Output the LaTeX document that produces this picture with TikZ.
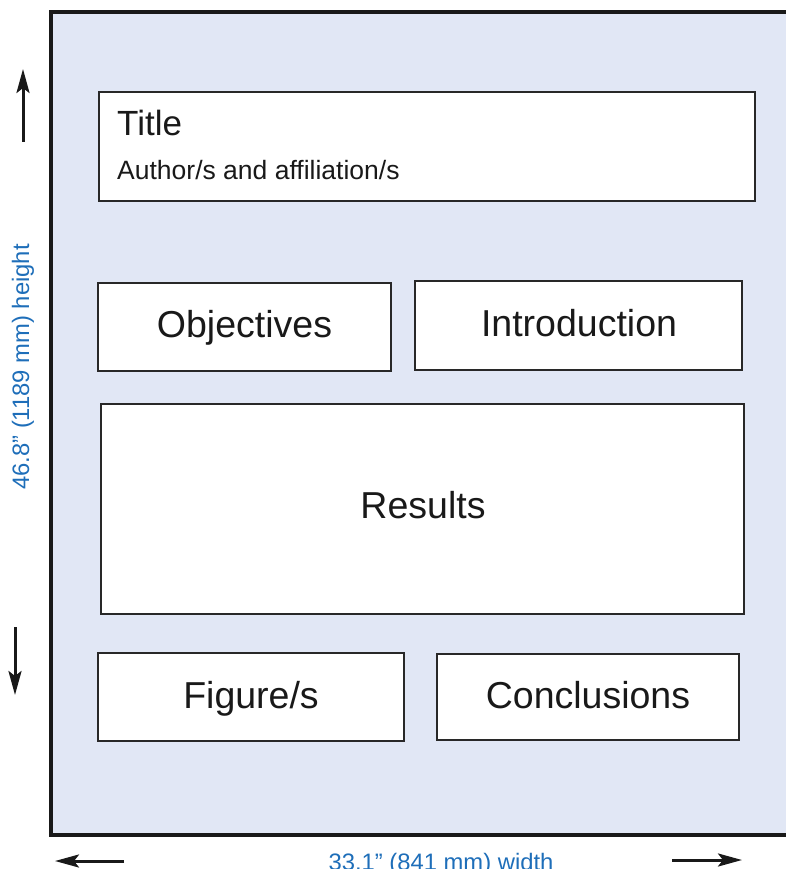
\documentclass[tikz,border=0pt]{standalone}
\usepackage{fontspec}
\setmainfont{Liberation Sans}
\usetikzlibrary{arrows.meta}
\definecolor{pagebg}{RGB}{225,231,245}
\definecolor{dimblue}{RGB}{30,110,185}
\definecolor{boxline}{RGB}{40,40,40}
\tikzset{
  box/.style={draw=boxline, line width=2pt, fill=white, inner sep=0pt, outer sep=0pt},
  lbl/.style={anchor=base, inner sep=0pt, text=black!90, font=\fontsize{37.5}{40}\selectfont},
  dimtext/.style={inner sep=0pt, text=dimblue, font=\fontsize{23.8}{26}\selectfont},
  dimarrow/.style={line width=3pt, -{Stealth[length=24pt,width=13pt,inset=5pt]}, black!90}
}
\begin{document}
\begin{tikzpicture}[x=1pt,y=-1pt]
\useasboundingbox (0,0) rectangle (786,869);
% outer page
\fill[pagebg] (51,12) rectangle (800,835);
\draw[line width=4pt, black!90] (800,12) -- (51,12) -- (51,835) -- (800,835);
% boxes
\node[box, minimum width=656pt, minimum height=109pt] (title) at (427,146.5) {};
\node[box, minimum width=293pt, minimum height=88pt] (obj) at (244.5,327) {};
\node[box, minimum width=327pt, minimum height=89pt] (intro) at (578.5,325.5) {};
\node[box, minimum width=643pt, minimum height=210pt] (res) at (422.5,509) {};
\node[box, minimum width=306pt, minimum height=88pt] (fig) at (251,697) {};
\node[box, minimum width=302pt, minimum height=86pt] (conc) at (588,697) {};
% texts
\node[anchor=base west, inner sep=0pt, text=black!90, font=\fontsize{35}{38}\selectfont] (titletext) at (117,136) {Title};
\node[anchor=base west, inner sep=0pt, text=black!90, font=\fontsize{26.5}{28}\selectfont] (authtext) at (117,179) {Author/s and affiliation/s};
\node[lbl] (objtext) at (244.5,337) {Objectives};
\node[lbl] (introtext) at (579,336) {Introduction};
\node[lbl] (restext) at (423,518) {Results};
\node[lbl] (figtext) at (251,708) {Figure/s};
\node[lbl] (conctext) at (588,708) {Conclusions};
% dimension labels
\node[dimtext, rotate=90] (htext) at (23,367) {46.8” (1189 mm) height};
\node[dimtext, anchor=base] (wtext) at (441,870) {33.1” (841 mm) width};
% arrows
\coordinate (upA) at (23,142); \coordinate (upB) at (23,69);
\coordinate (dnA) at (15,627); \coordinate (dnB) at (15,695);
\coordinate (lfA) at (124,861); \coordinate (lfB) at (55,861);
\coordinate (rtA) at (672,860); \coordinate (rtB) at (742,860);
\draw[dimarrow] (upA) -- (upB);
\draw[dimarrow] (dnA) -- (dnB);
\draw[dimarrow] (lfA) -- (lfB);
\draw[dimarrow] (rtA) -- (rtB);
\end{tikzpicture}
\end{document}
